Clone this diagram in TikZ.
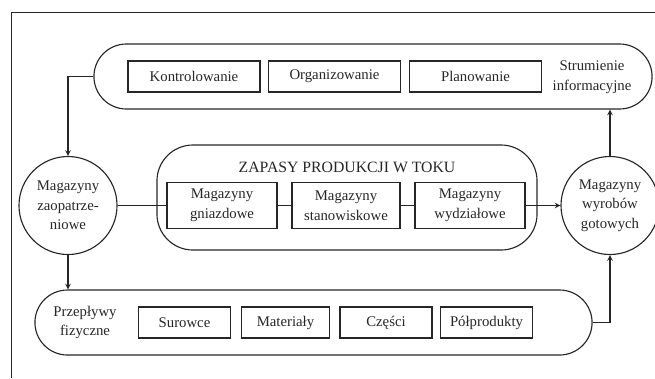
\documentclass[tikz,border=0pt]{standalone}
\usepackage{fontspec}
\setmainfont{Liberation Serif}
\begin{document}
\begin{tikzpicture}[x=0.025cm,y=-0.025cm,line width=0.8pt,>=stealth,color=black!85,
  font=\fontsize{10.5}{14}\selectfont,
  prostokat/.style={draw,minimum height=0.775cm,inner sep=0pt},
  kapsula/.style={draw,minimum height=1.625cm,rounded corners=0.8125cm},
  magazyn/.style={draw,circle,minimum size=2.45cm,inner sep=0pt,align=center}]
\useasboundingbox (0,0) rectangle (655,378);
\draw (11.5,378) -- (11.5,12.5) -- (655,12.5);
% strumienie informacyjne
\node[kapsula,minimum width=13.95cm] (infcap) at (373,76.5) {};
\node[prostokat,minimum width=3.3cm] (ctrl) at (194,76.5) {Kontrolowanie};
\node[prostokat,minimum width=3.28cm] (org) at (334.5,76.5) {Organizowanie};
\node[prostokat,minimum width=3.28cm] (plan) at (475.5,76.5) {Planowanie};
\node[align=center] (infotxt) at (592,77.5) {Strumienie\\informacyjne};
% magazyny
\node[magazyn] (zap) at (68,205.5) {Magazyny\\zaopatrze-\\niowe};
\node[draw,minimum width=9.5cm,minimum height=2.625cm,rounded corners=0.9cm] (wipcap) at (347,197.5) {};
\node (title) at (347,167) {\fontsize{11.2}{13}\selectfont ZAPASY PRODUKCJI W TOKU};
\node[prostokat,minimum width=2.75cm,minimum height=1.15cm,align=center] (gn) at (222,205.5) {Magazyny\\gniazdowe};
\node[prostokat,minimum width=2.7cm,minimum height=1.15cm,align=center] (st) at (346,205.5) {Magazyny\\stanowiskowe};
\node[prostokat,minimum width=2.75cm,minimum height=1.15cm,align=center] (wy) at (470,205.5) {Magazyny\\wydziałowe};
\node[magazyn] (got) at (610,205.5) {Magazyny\\wyrobów\\gotowych};
% przeplywy fizyczne
\node[kapsula,minimum width=13.925cm] (fizcap) at (313.5,322.5) {};
\node[align=center] (fiztxt) at (85,322.5) {Przepływy\\fizyczne};
\node[prostokat,minimum width=2.32cm] (sur) at (184.5,322.5) {Surowce};
\node[prostokat,minimum width=2.22cm] (mat) at (285.5,322.5) {Materiały};
\node[prostokat,minimum width=2.3cm] (cz) at (386,322.5) {Części};
\node[prostokat,minimum width=2.28cm] (pol) at (486.5,322.5) {Półprodukty};
% polaczenia
\draw[->] (infcap.west) -| (zap.north);
\draw[->] (zap.south) -- (zap.south |- fizcap.north);
\draw (zap.east) -- (gn.west);
\draw (gn) -- (st);
\draw (st) -- (wy);
\draw[->] (wy) -- (got);
\draw[->] (got.north) -- (got.north |- infcap.south);
\draw[->] (fizcap.east) -| (got.south);
\end{tikzpicture}
\end{document}
